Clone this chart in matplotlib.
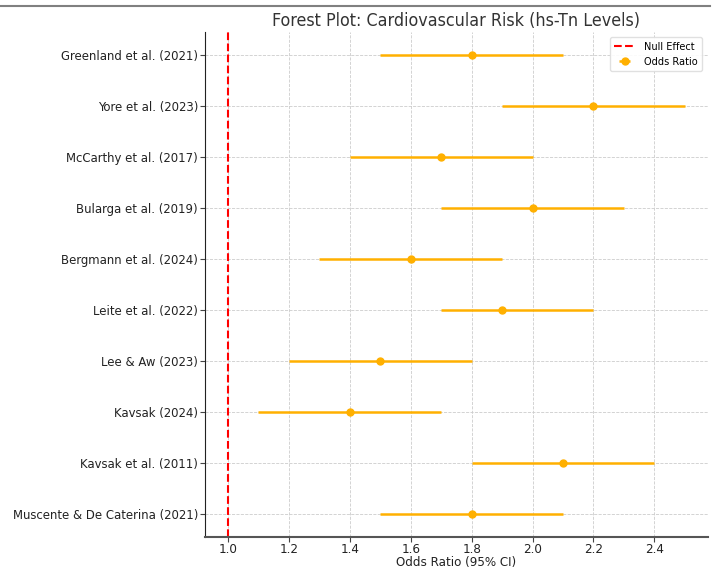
import matplotlib
matplotlib.use("Agg")
import matplotlib.pyplot as plt
from matplotlib.lines import Line2D

studies = [
    "Greenland et al. (2021)",
    "Yore et al. (2023)",
    "McCarthy et al. (2017)",
    "Bularga et al. (2019)",
    "Bergmann et al. (2024)",
    "Leite et al. (2022)",
    "Lee & Aw (2023)",
    "Kavsak (2024)",
    "Kavsak et al. (2011)",
    "Muscente & De Caterina (2021)",
]
odds_ratio = [1.8, 2.2, 1.7, 2.0, 1.6, 1.9, 1.5, 1.4, 2.1, 1.8]
ci_low = [1.5, 1.9, 1.4, 1.7, 1.3, 1.7, 1.2, 1.1, 1.8, 1.5]
ci_high = [2.1, 2.5, 2.0, 2.3, 1.9, 2.2, 1.8, 1.7, 2.4, 2.1]
null_value = 1.0

plt.rcParams["font.family"] = ["DejaVu Sans"]
plt.rcParams["font.stretch"] = "condensed"

fig = plt.figure(figsize=(7.12, 5.69), dpi=100)
ax = fig.add_axes([0.288, 0.056, 0.706, 0.888])

ypos = list(range(len(studies)))[::-1]
err_lo = [o - l for o, l in zip(odds_ratio, ci_low)]
err_hi = [h - o for o, h in zip(odds_ratio, ci_high)]

or_color = "#FFB000"
ax.axvline(null_value, color="red", linestyle="--", linewidth=1.5, label="Null Effect")
ax.errorbar(odds_ratio, ypos, xerr=[err_lo, err_hi], fmt="o", color=or_color,
            ecolor=or_color, elinewidth=1.8, markersize=5, capsize=0, label="Odds Ratio")

ax.set_yticks(ypos)
ax.set_yticklabels(studies, fontsize=9.4, color="#222222")
ax.set_xticks([1.0, 1.2, 1.4, 1.6, 1.8, 2.0, 2.2, 2.4])
ax.tick_params(axis="x", labelsize=9.5, colors="#222222", pad=1)
ax.tick_params(axis="y", pad=1.5)
ax.tick_params(axis="both", length=3.5, color="#444444")
ax.set_xlabel("Odds Ratio (95% CI)", fontsize=9.5, color="#222222", labelpad=0)
ax.set_title("Forest Plot: Cardiovascular Risk (hs-Tn Levels)", fontsize=12.75, color="#333333", pad=4)

ax.grid(True, linestyle="--", linewidth=0.6, color="#cccccc")
ax.set_axisbelow(True)
ax.spines["top"].set_visible(False)
ax.spines["right"].set_visible(False)
ax.spines["left"].set_color("#222222")
ax.spines["bottom"].set_color("#555555")
ax.spines["bottom"].set_linewidth(1.5)

ax.legend(loc="upper right", fontsize=7.8, framealpha=0.9, edgecolor="#dddddd")

# frame edge along the top of the canvas
fig.add_artist(Line2D([0.0, 0.997], [0.989, 0.989], transform=fig.transFigure,
                      color="#808080", linewidth=1.5))

fig.savefig("out.png", dpi=100)
